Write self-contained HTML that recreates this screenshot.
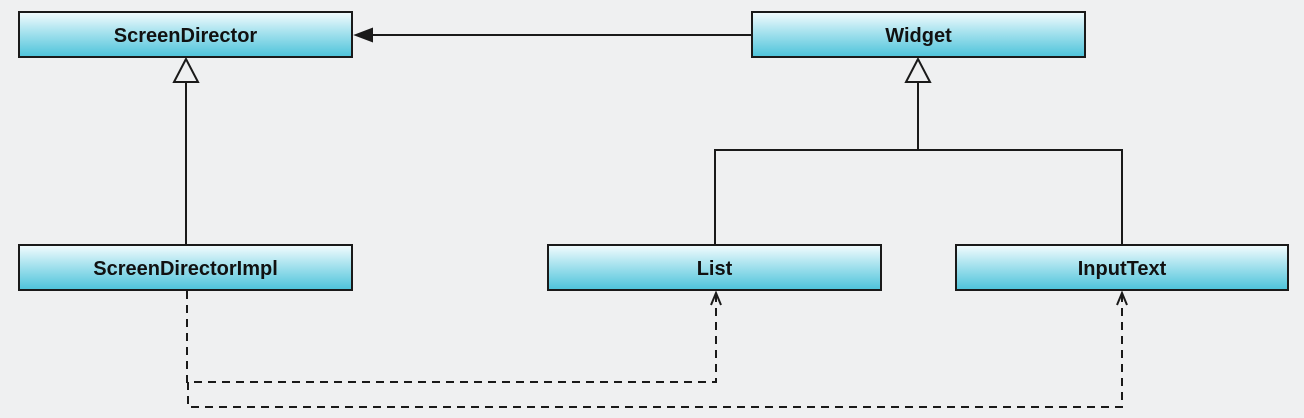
<!DOCTYPE html>
<html><head><style>
html,body{margin:0;padding:0;background:#eff0f1;}
</style></head><body>
<svg width="1304" height="418" xmlns="http://www.w3.org/2000/svg" style="display:block">
<defs>
<linearGradient id="g" x1="0" y1="0" x2="0" y2="1">
<stop offset="0" stop-color="#f4fcfe"/>
<stop offset="0.45" stop-color="#a6e2ee"/>
<stop offset="1" stop-color="#4cc3da"/>
</linearGradient>
</defs>
<rect width="1304" height="418" fill="#eff0f1"/>
<g stroke="#1a1a1a" stroke-width="2" fill="url(#g)">
<rect x="19" y="12" width="333" height="45"/>
<rect x="752" y="12" width="333" height="45"/>
<rect x="19" y="245" width="333" height="45"/>
<rect x="548" y="245" width="333" height="45"/>
<rect x="956" y="245" width="332" height="45"/>
</g>
<g font-family="Liberation Sans, sans-serif" font-weight="bold" font-size="20" fill="#111" text-anchor="middle">
<text x="185.5" y="42">ScreenDirector</text>
<text x="918.5" y="42">Widget</text>
<text x="185.5" y="275">ScreenDirectorImpl</text>
<text x="714.5" y="275">List</text>
<text x="1122" y="275">InputText</text>
</g>
<g stroke="#1a1a1a" stroke-width="2" fill="none">
<line x1="186" y1="82" x2="186" y2="245"/>
<polygon points="186,59 174,82 198,82" fill="#eff0f1"/>
<line x1="918" y1="82" x2="918" y2="150"/>
<polygon points="918,59 906,82 930,82" fill="#eff0f1"/>
<polyline points="715,245 715,150 1122,150 1122,245"/>
<line x1="752" y1="35" x2="370" y2="35"/>
<polygon points="356,35 372,29 372,41" fill="#1a1a1a"/>
<g stroke-dasharray="8,6">
<polyline points="187,291 187,382 716,382 716,295"/>
<polyline points="188,382 188,407 1122,407 1122,295"/>
</g>
<polyline points="711,305 716,293 721,305"/>
<polyline points="1117,305 1122,293 1127,305"/>
</g>
</svg>
</body></html>
